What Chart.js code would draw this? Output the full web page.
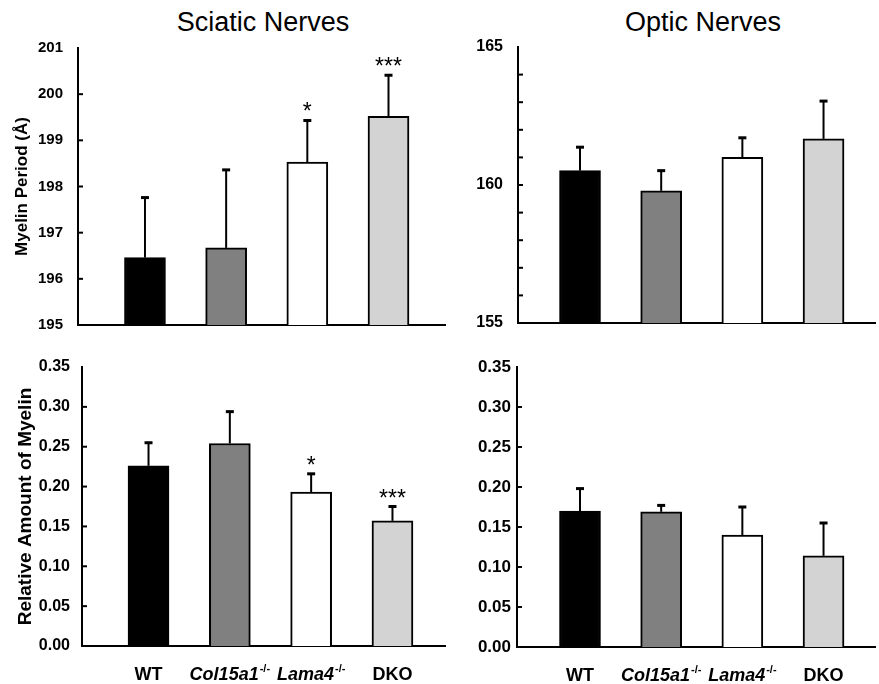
<!DOCTYPE html>
<html>
<head>
<meta charset="utf-8">
<script src="https://cdn.jsdelivr.net/npm/chart.js@4"></script>
<style>
  body { margin: 0; background: #fff; width: 879px; height: 684px; position: relative; overflow: hidden; }
  canvas { position: absolute; }
  .ptitle { position: absolute; top: 9px; width: 300px; text-align: center; font: 27px "Liberation Sans", Arial, sans-serif; line-height: 27px; color: #000; }
</style>
</head>
<body>
<div class="ptitle" style="left:113px">Sciatic Nerves</div>
<div class="ptitle" style="left:553px">Optic Nerves</div>
<canvas id="sciaticPeriod" width="450" height="300" style="left:0;top:38px"></canvas>
<canvas id="opticPeriod" width="439" height="300" style="left:440px;top:37px"></canvas>
<canvas id="sciaticAmount" width="450" height="327" style="left:0;top:357px"></canvas>
<canvas id="opticAmount" width="439" height="327" style="left:440px;top:357px"></canvas>
<script>
// groups (x axis)
const groups = ['WT', 'Col15a1-/-', 'Lama4-/-', 'DKO']
const italicGroups = [false, true, true, false]
const barColors = ['#000000', '#808080', '#ffffff', '#d3d3d3']

// myelin period (Å), mean and error
const sciaticPeriod = [196.46, 196.67, 198.53, 199.52]
const sciaticPeriodErr = [1.30, 1.69, 0.90, 0.89]
const opticPeriod = [160.52, 159.79, 161.00, 161.67]
const opticPeriodErr = [0.85, 0.73, 0.71, 1.37]

// relative amount of myelin, mean and error
const sciaticAmount = [0.226, 0.254, 0.193, 0.157]
const sciaticAmountErr = [0.029, 0.040, 0.023, 0.018]
const opticAmount = [0.170, 0.169, 0.140, 0.114]
const opticAmountErr = [0.028, 0.008, 0.035, 0.041]

// significance marks
const sciaticStars = ['', '', '*', '***']
const opticStars = ['', '', '', '']

const FONT = '"Liberation Sans", Arial, sans-serif'

//error bars, stars, inner ticks and group labels
const extras = {
    id: 'extras',
    afterDatasetsDraw(chart, args, opts) {
        const ctx = chart.ctx
        const xs = chart.scales.x
        const ys = chart.scales.y
        const meta = chart.getDatasetMeta(0)
        ctx.save()
        ctx.strokeStyle = '#000'
        ctx.fillStyle = '#000'
        opts.means.forEach((m, i) => {
            const cx = xs.getPixelForValue(i)
            const top = ys.getPixelForValue(m + opts.errors[i])
            ctx.lineWidth = 2
            ctx.beginPath()
            ctx.moveTo(cx, meta.data[i].y)
            ctx.lineTo(cx, top)
            ctx.stroke()
            ctx.lineWidth = 3
            ctx.beginPath()
            ctx.moveTo(cx - 4, top)
            ctx.lineTo(cx + 4, top)
            ctx.stroke()
            if (opts.stars[i]) {
                ctx.font = '23px ' + FONT
                ctx.textAlign = 'center'
                ctx.textBaseline = 'alphabetic'
                ctx.fillText(opts.stars[i], cx, top - 1)
            }
        })
        // small ticks on the inner side of the y axis
        ctx.lineWidth = 2
        ys.ticks.forEach(t => {
            if (t.value <= ys.min || t.value >= ys.max) return
            const py = ys.getPixelForValue(t.value)
            ctx.beginPath()
            ctx.moveTo(ys.right, py)
            ctx.lineTo(ys.right + 5, py)
            ctx.stroke()
        })
        // group labels with superscript
        if (opts.showLabels) {
            const base = chart.chartArea.bottom + 34
            groups.forEach((g, i) => {
                const cx = xs.getPixelForValue(i)
                const parts = g.split('-/-')
                const mainFont = (italicGroups[i] ? 'italic ' : '') + 'bold 18px ' + FONT
                const supFont = 'bold 11px ' + FONT
                ctx.font = mainFont
                const w1 = ctx.measureText(parts[0]).width
                let w2 = 0
                if (parts.length > 1) {
                    ctx.font = supFont
                    w2 = ctx.measureText('-/-').width + 1
                }
                const left = cx - (w1 + w2) / 2
                ctx.textAlign = 'left'
                ctx.textBaseline = 'alphabetic'
                ctx.font = mainFont
                ctx.fillText(parts[0], left, base)
                if (parts.length > 1) {
                    ctx.font = supFont
                    ctx.fillText('-/-', left + w1 + 1, base - 8)
                }
            })
        }
        ctx.restore()
    }
}

function makePanel(id, p) {
    const data = p.means.map((v, i) => ({ x: i, y: v }))
    return new Chart(document.getElementById(id), {
        type: 'bar',
        data: {
            datasets: [{
                data: data,
                backgroundColor: barColors,
                borderColor: '#000',
                borderWidth: 2,
                borderSkipped: 'bottom',
                barThickness: 41
            }]
        },
        options: {
            responsive: false,
            animation: false,
            layout: { padding: p.padding },
            plugins: {
                legend: { display: false },
                tooltip: { enabled: false },
                extras: { means: p.means, errors: p.errors, stars: p.stars, showLabels: p.showLabels }
            },
            scales: {
                x: {
                    type: 'linear',
                    offset: false,
                    min: p.xMin,
                    max: p.xMax,
                    grid: { display: false, drawTicks: false, offset: false },
                    ticks: { display: false },
                    border: { color: '#000', width: 2 },
                    afterFit: s => { s.height = 0; s.paddingLeft = 0; s.paddingRight = 0 }
                },
                y: {
                    min: p.yMin,
                    max: p.yMax,
                    grid: { display: false, drawTicks: false },
                    border: { color: '#000', width: 2 },
                    ticks: {
                        stepSize: p.step,
                        padding: p.tickPad,
                        color: '#000',
                        font: { family: FONT, size: p.tickSize, weight: 'bold' },
                        callback: p.tickLabel
                    },
                    title: {
                        display: !!p.yTitle,
                        text: p.yTitle,
                        color: '#000',
                        font: { family: FONT, size: p.titleSize, weight: 'bold' },
                        padding: { top: p.titlePad, bottom: 0 }
                    },
                    afterFit: s => { s.width = p.yWidth; s.paddingTop = 0; s.paddingBottom = 0 }
                }
            }
        },
        plugins: [extras]
    })
}

const amountLabel = v => v.toFixed(2)

makePanel('sciaticPeriod', {
    means: sciaticPeriod, errors: sciaticPeriodErr, stars: sciaticStars, showLabels: false,
    xMin: -0.825, xMax: 3.696, yMin: 195, yMax: 201, step: 1,
    tickLabel: v => v, tickPad: 15, tickSize: 15,
    yTitle: 'Myelin Period (Å)', titleSize: 17, titlePad: 12, yWidth: 78,
    padding: { top: 10, bottom: 13, left: 0, right: 5 }
})

makePanel('opticPeriod', {
    means: opticPeriod, errors: opticPeriodErr, stars: opticStars, showLabels: false,
    xMin: -0.764, xMax: 3.634, yMin: 155, yMax: 165, step: 1,
    tickLabel: v => (v % 5 === 0 ? v : ''), tickPad: 15, tickSize: 16,
    yTitle: '', titleSize: 17, titlePad: 0, yWidth: 78,
    padding: { top: 10, bottom: 14, left: 0, right: 4 }
})

makePanel('sciaticAmount', {
    means: sciaticAmount, errors: sciaticAmountErr, stars: sciaticStars, showLabels: true,
    xMin: -0.818, xMax: 3.646, yMin: 0, yMax: 0.35, step: 0.05,
    tickLabel: amountLabel, tickPad: 12, tickSize: 16,
    yTitle: 'Relative Amount of Myelin', titleSize: 19, titlePad: 14, yWidth: 82,
    padding: { top: 10, bottom: 38, left: 0, right: 5 }
})

makePanel('opticAmount', {
    means: opticAmount, errors: opticAmountErr, stars: opticStars, showLabels: true,
    xMin: -0.776, xMax: 3.634, yMin: 0, yMax: 0.35, step: 0.05,
    tickLabel: amountLabel, tickPad: 6, tickSize: 17,
    yTitle: '', titleSize: 17, titlePad: 0, yWidth: 77,
    padding: { top: 10, bottom: 37, left: 0, right: 4 }
})
</script>
</body>
</html>
